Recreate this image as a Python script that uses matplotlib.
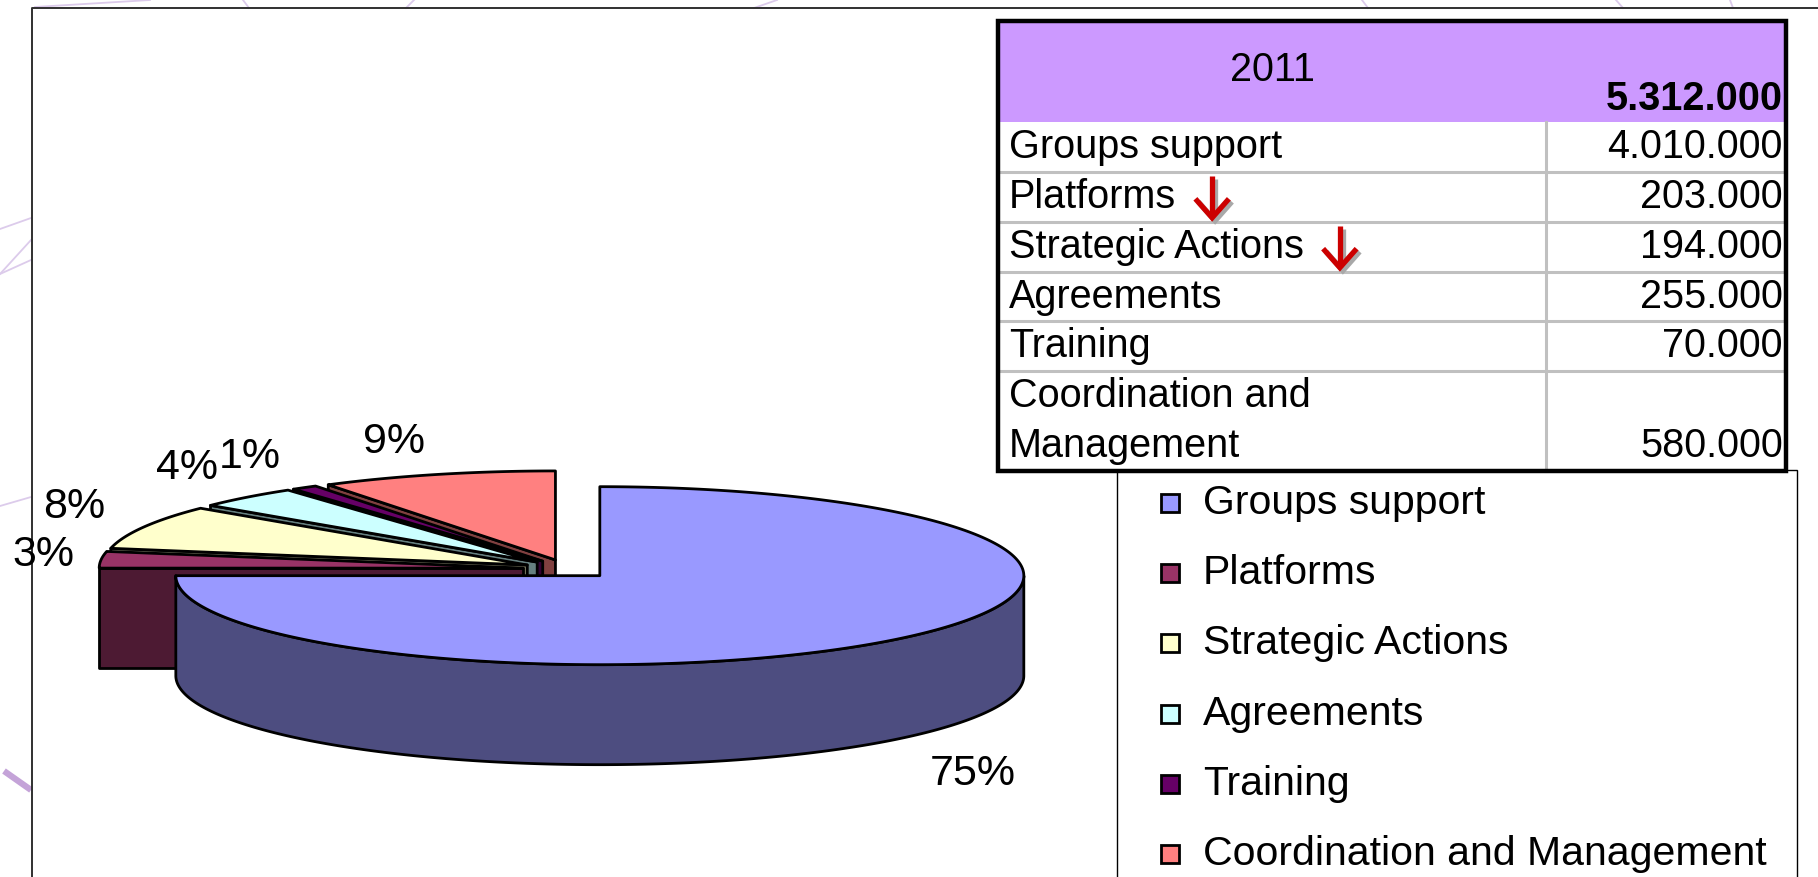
import numpy as np
import matplotlib
matplotlib.use("Agg")
import matplotlib.pyplot as plt
from matplotlib.patches import Polygon, Rectangle
from matplotlib.colors import to_rgb

plt.rcParams['font.family'] = ['Liberation Sans', 'DejaVu Sans']

# ---- data ----
categories = ["Groups support", "Platforms", "Strategic Actions", "Agreements",
              "Training", "Coordination and Management"]
pie_pct = [75, 3, 8, 4, 1, 9]
colors = ["#9999FF", "#993366", "#FFFFCC", "#CCFFFF", "#660066", "#FF8080"]

table_year = "2011"
table_total = "5.312.000"
table_labels = ["Groups support", "Platforms", "Strategic Actions", "Agreements",
                "Training", "Coordination and\nManagement"]
table_values = ["4.010.000", "203.000", "194.000", "255.000", "70.000", "580.000"]
table_down = [False, True, True, False, False, False]

W, H = 1818, 877
fig = plt.figure(figsize=(W / 100, H / 100), dpi=100)
ax = fig.add_axes([0, 0, 1, 1])
ax.set_xlim(0, W)
ax.set_ylim(H, 0)
ax.axis('off')

# background decoration of the slide
lav = "#DCCBEB"
for (x0, y0, x1, y1) in [(0, 229, 31, 218), (0, 274, 31, 240), (0, 274, 31, 260),
                         (0, 506, 31, 497), (35, 7, 150, 0), (249, 8, 243, 0),
                         (406, 8, 414, 0), (754, 8, 777, 0), (1368, 8, 1362, 0),
                         (1623, 8, 1616, 0), (1733, 8, 1730, 0)]:
    ax.plot([x0, x1], [y0, y1], color=lav, lw=1.3, zorder=0)
ax.plot([4, 31], [771, 790], color="#C4A3D8", lw=4.5, zorder=0, solid_capstyle='butt')

# chart frame
ax.plot([32, 32, W], [H, 8, 8], color="#303030", lw=1.4, zorder=1)

# ---- 3D exploded pie ----
cx, cy = 568, 569
rx, ry = 424, 89
depth = 100
explode = 45


def shade(c, f=0.5):
    r, g, b = to_rgb(c)
    return (r * f, g * f, b * f)


fracs = np.array(pie_pct) / sum(pie_pct)
ends = 90 - 360 * np.cumsum(fracs)        # Excel: from 12 o'clock, clockwise
starts = ends + 360 * fracs
mids = (starts + ends) / 2

order = np.argsort(-np.sin(np.radians(mids)))   # back slices first
ekw = dict(edgecolor='black', lw=2.0, joinstyle='round', zorder=3)

for i in order:
    s, e, m = np.radians(starts[i]), np.radians(ends[i]), np.radians(mids[i])
    tx = cx + explode * np.cos(m)
    ty = cy - explode * (ry / rx) * np.sin(m)
    col = colors[i]
    dark = shade(col)

    def pt(t, z=0):
        return (tx + rx * np.cos(t), ty - ry * np.sin(t) + z)

    # cut faces
    if np.cos(s) < -1e-6:
        ax.add_patch(Polygon([(tx, ty), pt(s), pt(s, depth), (tx, ty + depth)],
                             facecolor=dark, **ekw))
    if np.cos(e) > 1e-6:
        ax.add_patch(Polygon([(tx, ty), pt(e), pt(e, depth), (tx, ty + depth)],
                             facecolor=dark, **ekw))
    # outer side, front part only
    t = np.linspace(e, s, max(3, int(abs(starts[i] - ends[i]) * 3)))
    front = np.sin(t) <= 1e-9
    if front.sum() > 1:
        tf = t[front]
        top = [pt(v) for v in tf]
        bot = [pt(v, depth) for v in tf[::-1]]
        ax.add_patch(Polygon(top + bot, facecolor=dark, **ekw))
    # top face
    ax.add_patch(Polygon([(tx, ty)] + [pt(v) for v in t], facecolor=col, **ekw))

    # percentage label, box pushed outward along the slice direction
    c_, s_ = np.cos(m), np.sin(m)
    lx = tx + 1.1 * rx * c_
    ly = ty - 1.15 * ry * s_ + (depth + 6 if s_ < 0 else 0)
    ha = 'left' if c_ > 0.05 else ('right' if c_ < -0.05 else 'center')
    txt = ax.text(lx, ly, f"{pie_pct[i]}%", fontsize=31, ha=ha, va='center', zorder=6)
    fig.canvas.draw()
    bb = txt.get_window_extent().transformed(ax.transData.inverted())
    half_h = abs(bb.y1 - bb.y0) / 2
    txt.set_y(ly - half_h * np.clip(s_ / 0.6, -1, 1))
    if min(bb.x0, bb.x1) < 12:
        txt.set_x(lx + 12 - min(bb.x0, bb.x1))

# ---- legend ----
lg_left, lg_top, lg_right = 1117, 470, 1797
ax.add_patch(Rectangle((lg_left, lg_top), lg_right - lg_left, H + 50 - lg_top,
                       facecolor='white', edgecolor='black', lw=1.0, zorder=4))
for k, (name, col) in enumerate(zip(categories, colors)):
    yy = 503 + 70.2 * k
    ax.add_patch(Rectangle((1161, yy - 9), 18, 18, facecolor=col,
                           edgecolor='black', lw=2.0, zorder=5))
    ax.text(1203, yy, name, fontsize=29.5, ha='left', va='center', zorder=5)

# ---- table ----
t_left, t_top, t_right, t_bot = 998, 21, 1786, 471
hdr_bot = 122
col_x = 1546
units = [lab.count("\n") + 1 for lab in table_labels]
unit_h = (t_bot - hdr_bot) / sum(units)
tfs = 28.5

ax.add_patch(Rectangle((t_left, t_top), t_right - t_left, t_bot - t_top,
                       facecolor='white', edgecolor='none', zorder=7))
ax.add_patch(Rectangle((t_left, t_top), t_right - t_left, hdr_bot - t_top,
                       facecolor='#CC99FF', edgecolor='none', zorder=7))
ax.text((t_left + col_x) / 2, 70, table_year, fontsize=tfs, ha='center', va='center', zorder=9)
ax.text(t_right - 3, 99, table_total, fontsize=tfs, fontweight='bold',
        ha='right', va='center', zorder=9)
ax.plot([col_x, col_x], [hdr_bot, t_bot], color='#C0C0C0', lw=2.2, zorder=8)

y = hdr_bot
for lab, val, down, u in zip(table_labels, table_values, table_down, units):
    if y > hdr_bot:
        ax.plot([t_left, t_right], [y, y], color='#C0C0C0', lw=2.2, zorder=8)
    lines = lab.split("\n")
    for j, ln in enumerate(lines):
        yc = y + unit_h * (j + 0.5)
        tt = ax.text(t_left + 11, yc, ln, fontsize=tfs, ha='left', va='center', zorder=9)
    ax.text(t_right - 3, y + unit_h * (u - 0.5), val, fontsize=tfs,
            ha='right', va='center', zorder=9)
    if down:
        fig.canvas.draw()
        bb = tt.get_window_extent().transformed(ax.transData.inverted())
        axc = max(bb.x0, bb.x1) + 36
        yc = y + unit_h * 0.5
        for dx, dy, c in [(3, 3, '#A8A8A8'), (0, 0, '#CC0000')]:
            ax.plot([axc + dx, axc + dx], [yc - 21 + dy, yc + 20 + dy], color=c, lw=3.8,
                    zorder=9, solid_capstyle='butt')
            ax.plot([axc - 15 + dx, axc + dx, axc + 15 + dx],
                    [yc + 4 + dy, yc + 21 + dy, yc + 4 + dy], color=c, lw=3.8,
                    zorder=9, solid_joinstyle='miter')
    y += unit_h * u

ax.add_patch(Rectangle((t_left, t_top), t_right - t_left, t_bot - t_top,
                       facecolor='none', edgecolor='black', lw=3.2, zorder=10))

fig.savefig("out.png", dpi=100)
